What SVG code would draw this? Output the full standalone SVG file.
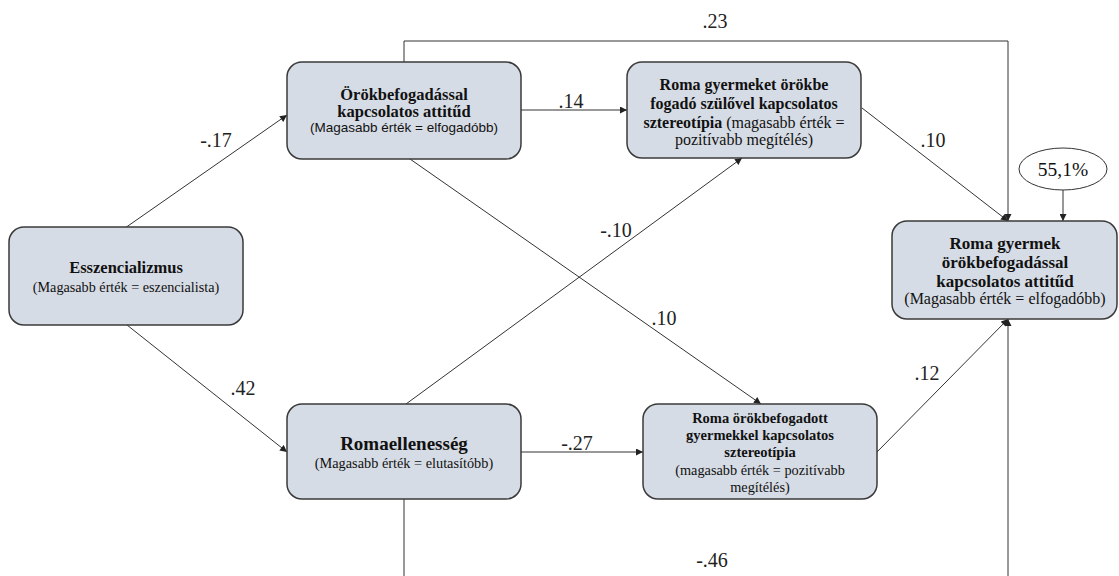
<svg xmlns="http://www.w3.org/2000/svg" width="1119" height="576" viewBox="0 0 1119 576">
<defs>
<marker id="arr" viewBox="0 0 10 10" refX="10" refY="5" markerWidth="8" markerHeight="7" markerUnits="userSpaceOnUse" orient="auto">
<path d="M0,0 L10,5 L0,10 z" fill="#222"/>
</marker>
<style>
.box{fill:#d6dce5;stroke:#3a3a3a;stroke-width:1.5}
.t{font-family:"Liberation Serif","Times New Roman",serif;fill:#111;text-anchor:middle}
.b{font-weight:bold}
.s{font-family:"Liberation Sans",Arial,sans-serif;fill:#111;text-anchor:middle}
.edge{fill:none;stroke:#333;stroke-width:1;marker-end:url(#arr)}
.lbl{font-family:"Liberation Serif","Times New Roman",serif;font-size:20px;fill:#222;text-anchor:middle}
</style>
</defs>
<rect width="1119" height="576" fill="#fff"/>

<g id="connectors">
<line class="edge" x1="125" y1="228" x2="287" y2="115"/>
<line class="edge" x1="127" y1="325" x2="287" y2="452"/>
<line class="edge" x1="521" y1="110" x2="627" y2="110"/>
<line class="edge" x1="521" y1="452" x2="643" y2="452"/>
<line class="edge" x1="410" y1="159" x2="761" y2="404"/>
<line class="edge" x1="406" y1="404" x2="742" y2="158"/>
<line class="edge" x1="862" y1="108" x2="1008" y2="221"/>
<line class="edge" x1="877" y1="452" x2="1008" y2="319"/>
<polyline class="edge" points="404,62 404,41 1008,41 1008,221"/>
<polyline class="edge" points="404,499 404,582 1008,582 1008,319"/>
<line class="edge" x1="1063" y1="190" x2="1063" y2="221"/>
<text class="lbl" x="715" y="28">.23</text>
<text class="lbl" x="216" y="147">-.17</text>
<text class="lbl" x="243" y="395">.42</text>
<text class="lbl" x="571" y="108">.14</text>
<text class="lbl" x="577" y="450">-.27</text>
<text class="lbl" x="616" y="237">-.10</text>
<text class="lbl" x="664" y="325">.10</text>
<text class="lbl" x="933" y="147">.10</text>
<text class="lbl" x="927" y="380">.12</text>
<text class="lbl" x="712" y="567">-.46</text>
</g>

<g id="esszencializmus">
<rect class="box" x="9" y="227" width="234" height="98" rx="15"/>
<text class="t b" x="126" y="273" font-size="16.5">Esszencializmus</text>
<text class="t" x="126" y="292" font-size="14.2">(Magasabb érték = eszencialista)</text>
</g>

<g id="orokbefogadas">
<rect class="box" x="287" y="62" width="234" height="97" rx="15"/>
<text class="t b" x="404" y="100" font-size="16.5">Örökbefogadással</text>
<text class="t b" x="404" y="117" font-size="16.5">kapcsolatos attitűd</text>
<text class="s" x="404" y="132" font-size="13.5">(Magasabb érték = elfogadóbb)</text>
</g>

<g id="szulo-sztereotipia">
<rect class="box" x="627" y="62" width="234" height="96" rx="15"/>
<text class="t b" x="744" y="90" font-size="16">Roma gyermeket örökbe</text>
<text class="t b" x="744" y="109" font-size="16">fogadó szülővel kapcsolatos</text>
<text class="t" x="744" y="128" font-size="16"><tspan font-weight="bold">sztereotípia</tspan> (magasabb érték =</text>
<text class="t" x="744" y="145" font-size="16">pozitívabb megítélés)</text>
</g>

<g id="romaellenesseg">
<rect class="box" x="287" y="404" width="234" height="95" rx="15"/>
<text class="t b" x="404" y="450" font-size="19">Romaellenesség</text>
<text class="t" x="404" y="468" font-size="14.3">(Magasabb érték = elutasítóbb)</text>
</g>

<g id="gyermek-sztereotipia">
<rect class="box" x="643" y="404" width="234" height="95" rx="15"/>
<text class="t b" x="760" y="423" font-size="14.5">Roma örökbefogadott</text>
<text class="t b" x="760" y="440" font-size="14.5">gyermekkel kapcsolatos</text>
<text class="t b" x="760" y="457" font-size="14.5">sztereotípia</text>
<text class="t" x="760" y="475" font-size="14.3">(magasabb érték = pozitívabb</text>
<text class="t" x="760" y="492" font-size="14.3">megítélés)</text>
</g>

<g id="cel-attitud">
<rect class="box" x="892" y="221" width="225" height="98" rx="15"/>
<text class="t b" x="1005" y="249" font-size="17">Roma gyermek</text>
<text class="t b" x="1005" y="268" font-size="17">örökbefogadással</text>
<text class="t b" x="1005" y="287" font-size="17">kapcsolatos attitűd</text>
<text class="t" x="1005" y="304" font-size="16">(Magasabb érték = elfogadóbb)</text>
</g>

<g id="r2">
<ellipse cx="1063" cy="169" rx="44" ry="21" fill="#fff" stroke="#333" stroke-width="1"/>
<text class="t" x="1063" y="176" font-size="19.5">55,1%</text>
</g>
</svg>
